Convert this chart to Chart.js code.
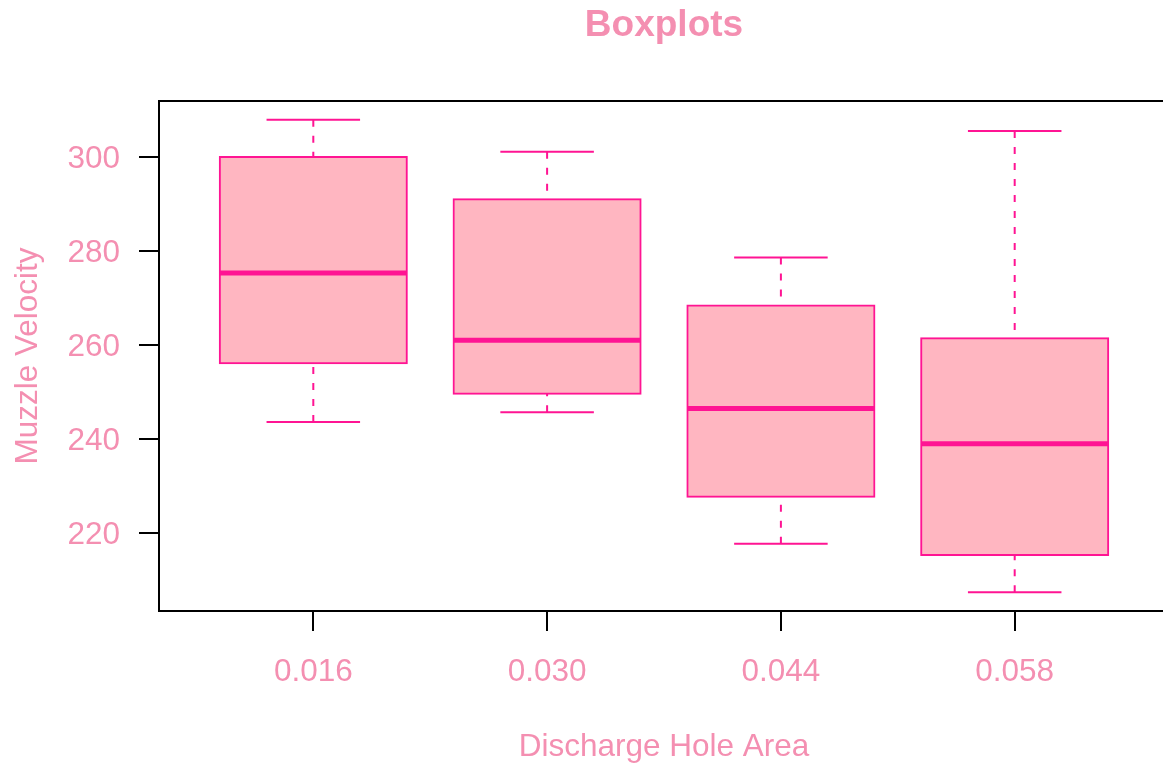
<!DOCTYPE html>
<html>
<head>
<meta charset="utf-8">
<script src="https://cdn.jsdelivr.net/npm/chart.js@4.4.4/dist/chart.umd.min.js"></script>
<style>
  html, body { margin: 0; padding: 0; background: #fff; overflow: hidden; }
  #wrap { width: 1180px; height: 766px; }
</style>
</head>
<body>
<div id="wrap"><canvas id="chart" width="1180" height="766"></canvas></div>
<script>
// values
const categories = ['0.016', '0.030', '0.044', '0.058'];
const whiskerLow = [243.6, 245.7, 217.7, 207.4];
const q1 = [256.1, 249.6, 227.7, 215.3];
const median = [275.3, 261.0, 246.5, 239.0];
const q3 = [300.0, 291.0, 268.4, 261.4];
const whiskerHigh = [307.9, 301.1, 278.6, 305.5];
const yTicks = [220, 240, 260, 280, 300];
const xTicks = [1, 2, 3, 4];

const TEXT = '#F48FB1';
const LINE = '#FF1493';
const FILL = '#FFB6C1';
const FONT = "'Liberation Sans', Arial, Helvetica, sans-serif";

const boxPlugin = {
  id: 'boxParts',
  beforeDatasetsDraw(chart) {
    const { ctx } = chart;
    const xs = chart.scales.x, ys = chart.scales.y;
    const cap = xs.getPixelForValue(1.2) - xs.getPixelForValue(1);
    ctx.save();
    ctx.strokeStyle = LINE;
    ctx.lineWidth = 2;
    categories.forEach((c, i) => {
      const x = xs.getPixelForValue(i + 1);
      // whiskers (dashed)
      ctx.setLineDash([7, 9]);
      ctx.beginPath();
      ctx.moveTo(x, ys.getPixelForValue(whiskerLow[i]));
      ctx.lineTo(x, ys.getPixelForValue(q1[i]));
      ctx.moveTo(x, ys.getPixelForValue(whiskerHigh[i]));
      ctx.lineTo(x, ys.getPixelForValue(q3[i]));
      ctx.stroke();
      // staples
      ctx.setLineDash([]);
      ctx.beginPath();
      [whiskerLow[i], whiskerHigh[i]].forEach(v => {
        const y = ys.getPixelForValue(v);
        ctx.moveTo(x - cap, y);
        ctx.lineTo(x + cap, y);
      });
      ctx.stroke();
    });
    ctx.restore();
  },
  afterDatasetsDraw(chart) {
    const { ctx } = chart;
    const xs = chart.scales.x, ys = chart.scales.y;
    const half = xs.getPixelForValue(1.4) - xs.getPixelForValue(1);
    ctx.save();
    ctx.strokeStyle = LINE;
    ctx.lineWidth = 5;
    categories.forEach((c, i) => {
      const x = xs.getPixelForValue(i + 1);
      const y = ys.getPixelForValue(median[i]);
      ctx.beginPath();
      ctx.moveTo(x - half, y);
      ctx.lineTo(x + half, y);
      ctx.stroke();
    });
    ctx.restore();
  },
  afterDraw(chart) {
    const { ctx, chartArea: a } = chart;
    ctx.save();
    ctx.strokeStyle = '#000';
    ctx.lineWidth = 2;
    ctx.strokeRect(a.left, a.top, a.right - a.left, a.bottom - a.top);
    ctx.fillStyle = TEXT;
    ctx.font = 'bold 37px ' + FONT;
    ctx.textAlign = 'center';
    ctx.textBaseline = 'middle';
    ctx.fillText('Boxplots', (a.left + a.right) / 2, 26);
    ctx.restore();
  },
};

new Chart(document.getElementById('chart'), {
  type: 'bar',
  data: {
    datasets: [{
      data: categories.map((c, i) => ({ x: i + 1, y: [q1[i], q3[i]] })),
      backgroundColor: FILL,
      borderColor: LINE,
      borderWidth: 2,
      borderSkipped: false,
      inflateAmount: 1,
      categoryPercentage: 0.8,
      barPercentage: 1,
    }],
  },
  options: {
    responsive: false,
    animation: false,
    layout: { padding: { top: 101, right: 11, left: 0, bottom: 0 } },
    plugins: { legend: { display: false }, tooltip: { enabled: false } },
    scales: {
      x: {
        type: 'linear',
        offset: false,
        min: 0.34,
        max: 4.66,
        afterBuildTicks: s => { s.ticks = xTicks.map(v => ({ value: v })); },
        afterFit: s => { s.height = 155; },
        grid: { offset: false, drawOnChartArea: false, drawTicks: true, tickLength: 20, color: '#000', lineWidth: 2 },
        border: { display: false },
        ticks: {
          padding: 22,
          color: TEXT,
          font: { family: FONT, size: 31.5 },
          callback: v => categories[v - 1],
        },
        title: {
          display: true,
          text: 'Discharge Hole Area',
          color: TEXT,
          font: { family: FONT, size: 31.5 },
          padding: { top: 0, bottom: 0 },
        },
      },
      y: {
        min: 203.4,
        max: 311.9,
        afterBuildTicks: s => { s.ticks = yTicks.map(v => ({ value: v })); },
        afterFit: s => { s.width = 159; },
        grid: { drawOnChartArea: false, drawTicks: true, tickLength: 20, color: '#000', lineWidth: 2 },
        border: { display: false },
        ticks: {
          padding: 19,
          labelOffset: 2,
          color: TEXT,
          font: { family: FONT, size: 31.5 },
        },
        title: {
          display: true,
          text: 'Muzzle Velocity',
          color: TEXT,
          font: { family: FONT, size: 31.5 },
          padding: { top: 9, bottom: 0 },
        },
      },
    },
  },
  plugins: [boxPlugin],
});
</script>
</body>
</html>
